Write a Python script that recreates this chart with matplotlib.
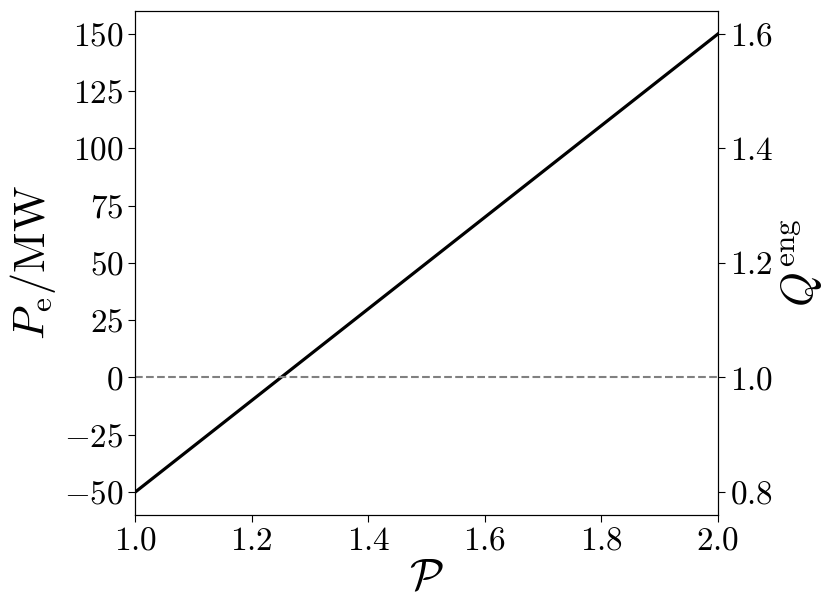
import matplotlib
matplotlib.use("Agg")
import matplotlib.pyplot as plt
import numpy as np

# data
P_norm = np.array([1.0, 2.0])        # \mathcal{P}
P_e = np.array([-50.0, 150.0])       # MW
Q_ref = np.array([0.8, 1.6])         # Q_eng at the ends
left_ticks = [-50, -25, 0, 25, 50, 75, 100, 125, 150]
right_ticks = [0.8, 1.0, 1.2, 1.4, 1.6]
x_ticks = [1.0, 1.2, 1.4, 1.6, 1.8, 2.0]

plt.rcParams["mathtext.fontset"] = "cm"
plt.rcParams["font.family"] = "serif"
plt.rcParams["font.serif"] = ["cmr10", "DejaVu Serif"]
plt.rcParams["axes.formatter.use_mathtext"] = True
plt.rcParams["axes.unicode_minus"] = True

fig, ax = plt.subplots(figsize=(8.3, 6.13), dpi=100)
fig.subplots_adjust(left=0.163, right=0.865, top=0.982, bottom=0.160)

ax.plot(P_norm, P_e, color="black", lw=2.3)
ax.axhline(0, color="gray", ls="--", lw=1.5)
ax.set_xlim(1.0, 2.0)
ax.set_xticks(x_ticks)
ax.set_yticks(left_ticks)
ax.set_xticklabels([f"${v:.1f}$" for v in x_ticks])
ax.set_yticklabels([f"${v}$" for v in left_ticks])
ax.tick_params(labelsize=24, length=5)
ax.set_xlabel(r"$\mathcal{P}$", fontsize=32, labelpad=2)
ax.set_ylabel(r"$P_{\rm e}/{\rm MW}$", fontsize=32, labelpad=4)

# right axis: Q_eng is linear in P_e, map the limits
y0, y1 = ax.get_ylim()
slope = (Q_ref[1] - Q_ref[0]) / (P_e[1] - P_e[0])
ax2 = ax.twinx()
ax2.set_ylim(Q_ref[0] + slope * (y0 - P_e[0]), Q_ref[0] + slope * (y1 - P_e[0]))
ax2.set_yticks(right_ticks)
ax2.set_yticklabels([f"${v:.1f}$" for v in right_ticks])
ax2.tick_params(labelsize=24, length=5)
ax2.set_ylabel(r"$Q^{\rm eng}$", fontsize=32, labelpad=4)

fig.savefig("out.png", dpi=100)
